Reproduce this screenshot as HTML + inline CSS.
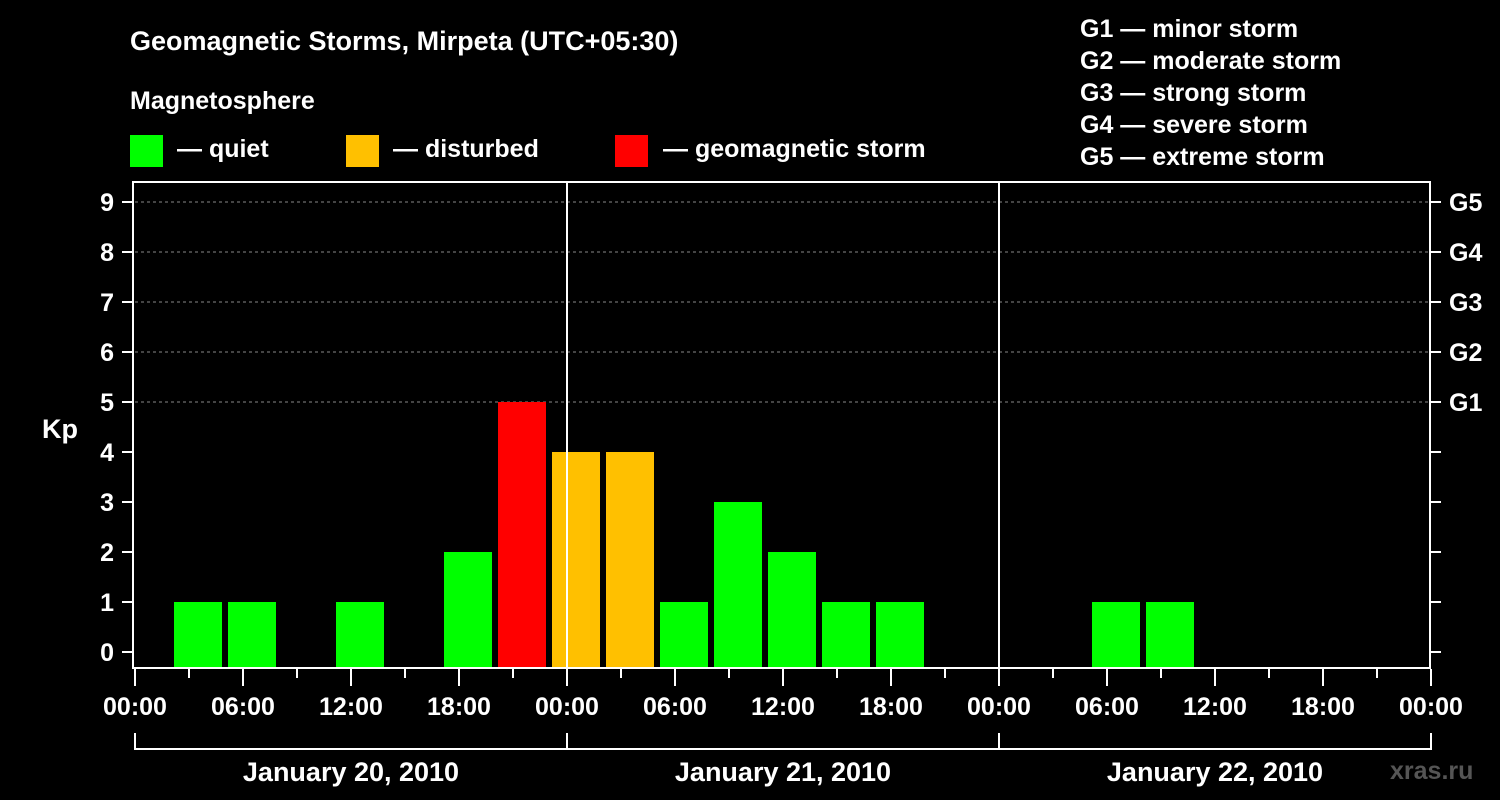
<!DOCTYPE html>
<html><head><meta charset="utf-8"><style>
body{margin:0;background:#000;}
svg{display:block;font-family:"Liberation Sans",Arial,sans-serif;font-weight:bold;}
</style></head><body>
<svg width="1500" height="800" viewBox="0 0 1500 800">
<rect width="1500" height="800" fill="#000"/>
<text x="130" y="50" fill="#fff" font-size="27">Geomagnetic Storms, Mirpeta (UTC+05:30)</text>
<text x="130" y="109" fill="#fff" font-size="25">Magnetosphere</text>
<g><rect x="130" y="135" width="33" height="32" fill="#00ff00"/><text x="177" y="157" fill="#fff" font-size="25">— quiet</text></g>
<g><rect x="346" y="135" width="33" height="32" fill="#ffc000"/><text x="393" y="157" fill="#fff" font-size="25">— disturbed</text></g>
<g><rect x="615" y="135" width="33" height="32" fill="#ff0000"/><text x="663" y="157" fill="#fff" font-size="25">— geomagnetic storm</text></g>
<g fill="#fff" font-size="25">
<text x="1080" y="37">G1 — minor storm</text>
<text x="1080" y="69">G2 — moderate storm</text>
<text x="1080" y="101">G3 — strong storm</text>
<text x="1080" y="133">G4 — severe storm</text>
<text x="1080" y="165">G5 — extreme storm</text>
</g>
<text x="42" y="438" fill="#fff" font-size="27">Kp</text>
<text x="1390" y="779" fill="#555" font-size="25">xras.ru</text>
<g id="plot"></g>
</svg>
<script>
const hours=[3.5,6.5,12.5,18.5,21.5,24.5,27.5,30.5,33.5,36.5,39.5,42.5,54.5,57.5];
const kp=[1,1,1,2,5,4,4,1,3,2,1,1,1,1];
const yTicks=[0,1,2,3,4,5,6,7,8,9];
const gLabels=["G1","G2","G3","G4","G5"];
const xLabels=["00:00","06:00","12:00","18:00","00:00","06:00","12:00","18:00","00:00","06:00","12:00","18:00","00:00"];
const days=["January 20, 2010","January 21, 2010","January 22, 2010"];
const NS="http://www.w3.org/2000/svg";
const g=document.getElementById('plot');
const X0=135,PXH=18,Y0=652,PXU=50,TOP=182,BOT=668,RIGHT=1431;
const x=h=>X0+h*PXH, y=v=>Y0-v*PXU;
function mk(t,a,p){const e=document.createElementNS(NS,t);for(const k in a)e.setAttribute(k,a[k]);(p||g).appendChild(e);return e;}
// gridlines
[5,6,7,8,9].forEach(v=>{const l=mk('line',{x1:X0,x2:RIGHT,y1:y(v),y2:y(v),stroke:'#888','stroke-dasharray':'3,3','stroke-width':1});

});
// bars
hours.forEach((h,i)=>{const v=kp[i];const c=v>=5?'#ff0000':(v>=4?'#ffc000':'#00ff00');
const r=mk('rect',{x:x(h)-24,y:y(v),width:48,height:BOT-1-y(v),fill:c});

});
// day separators
[1,2].forEach(d=>{const l=mk('line',{x1:x(24*d),x2:x(24*d),y1:TOP,y2:BOT,stroke:'#fff','stroke-width':2});

});
// frame
const f=mk('rect',{x:X0-2,y:TOP,width:RIGHT-X0+1,height:BOT-TOP,fill:'none',stroke:'#fff','stroke-width':2});


// y ticks
yTicks.forEach(v=>{mk('line',{x1:122,x2:X0-2,y1:y(v),y2:y(v),stroke:'#fff','stroke-width':2});
mk('line',{x1:RIGHT,x2:1441,y1:y(v),y2:y(v),stroke:'#fff','stroke-width':2});
const t=mk('text',{x:114,y:y(v)+9,fill:'#fff','font-size':25,'text-anchor':'end'});t.textContent=v;

});
gLabels.forEach((s,i)=>{const t=mk('text',{x:1449,y:y(5+i)+9,fill:'#fff','font-size':25});t.textContent=s;

});
// x ticks
for(let h=0;h<=72;h+=3){const maj=h%6===0;mk('line',{x1:x(h),x2:x(h),y1:BOT+1,y2:maj?686:678,stroke:'#fff','stroke-width':2});}
xLabels.forEach((s,i)=>{const t=mk('text',{x:x(i*6),y:715,fill:'#fff','font-size':25,'text-anchor':'middle'});t.textContent=s;

});
// day brackets
mk('line',{x1:X0,x2:RIGHT,y1:749,y2:749,stroke:'#fff','stroke-width':2});
[0,1,2,3].forEach(d=>mk('line',{x1:x(24*d),x2:x(24*d),y1:733,y2:750,stroke:'#fff','stroke-width':2}));
days.forEach((s,i)=>{const t=mk('text',{x:x(24*i+12),y:781,fill:'#fff','font-size':27,'text-anchor':'middle'});t.textContent=s;

});
</script>
</body></html>
